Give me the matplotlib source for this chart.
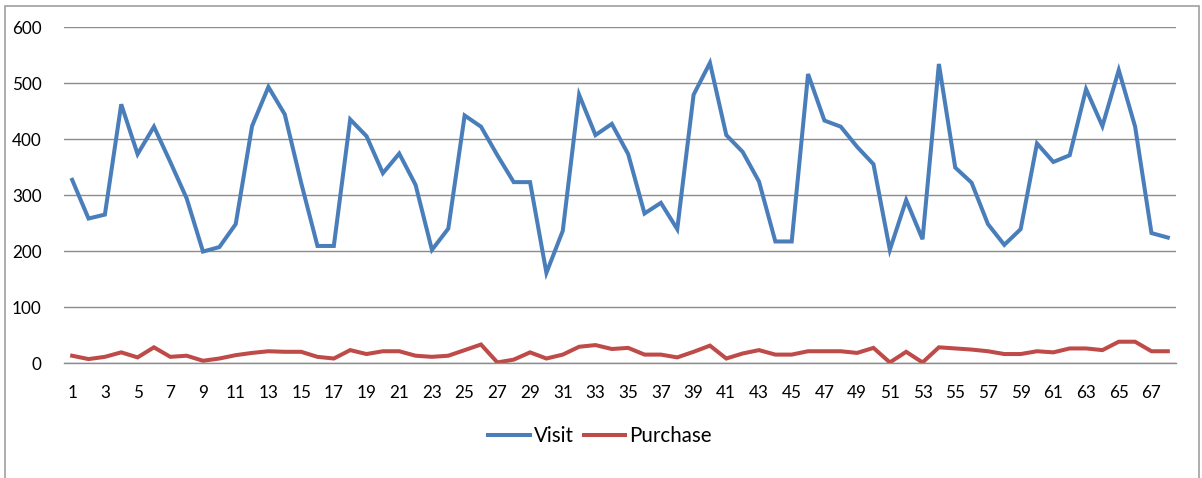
import numpy as np
import matplotlib.pyplot as plt
from matplotlib.patches import Rectangle

# Datos
days = list(range(1, 69))
visit = [327, 258, 265, 462, 373, 422, 359, 294, 199, 207,
         248, 423, 493, 444, 322, 209, 209, 435, 405, 339,
         374, 318, 202, 240, 442, 422, 371, 323, 323, 161,
         236, 479, 407, 427, 373, 267, 286, 239, 479, 536,
         407, 377, 324, 217, 217, 516, 433, 422, 386, 355,
         202, 291, 221, 534, 349, 322, 248, 211, 239, 392,
         359, 371, 489, 423, 523, 422, 232, 224]
purchase = [13, 7, 11, 19, 10, 28, 11, 13, 4, 8,
            14, 18, 21, 20, 20, 11, 8, 23, 16, 21,
            21, 13, 11, 13, 23, 33, 1, 6, 19, 8,
            15, 29, 32, 25, 27, 15, 15, 10, 20, 31,
            8, 17, 23, 15, 15, 21, 21, 21, 18, 27,
            1, 20, 1, 28, 26, 24, 21, 16, 16, 21,
            19, 26, 26, 23, 38, 38, 21, 21]
yticks = [0, 100, 200, 300, 400, 500, 600]

plt.rcParams['font.family'] = ['Lato', 'DejaVu Sans']

fig = plt.figure(figsize=(12.02, 4.78), dpi=100)
ax = fig.add_axes([64 / 1202, 1 - 363 / 478, 1112 / 1202, 336 / 478])

x = np.arange(len(days))
ax.plot(x, visit, color='#4A7EBB', lw=2.9, label='Visit', solid_joinstyle='miter')
ax.plot(x, purchase, color='#BE4B48', lw=2.9, label='Purchase', solid_joinstyle='miter')

ax.set_xlim(-0.5, len(days) - 0.5)
ax.set_ylim(0, 600)
ax.set_yticks(yticks)
ax.set_xticks(x[::2])
ax.set_xticklabels([str(d) for d in days[::2]])
ax.tick_params(axis='both', length=0, labelsize=12.3, colors='black')
ax.tick_params(axis='y', pad=16)
ax.tick_params(axis='x', pad=16)

# Rejilla horizontal
ax.grid(axis='y', color='#8C8C8C', lw=1)
ax.set_axisbelow(True)
for s in ['top', 'right', 'left']:
    ax.spines[s].set_visible(False)
ax.spines['bottom'].set_color('#8C8C8C')
ax.spines['bottom'].set_linewidth(1)

# Leyenda
fig.legend(loc='center', bbox_to_anchor=(600 / 1202, 1 - 436 / 478), ncol=2,
           frameon=False, fontsize=14.8, handlelength=2.0, handletextpad=0.2,
           columnspacing=0.5)

# Marco del gráfico
fig.patches.append(Rectangle((5 / 1202, -0.1), 1194 / 1202, 1.1 - 6 / 478,
                             transform=fig.transFigure, fill=False,
                             edgecolor='#A0A0A0', lw=1.2))

fig.savefig('out.png', dpi=100)
